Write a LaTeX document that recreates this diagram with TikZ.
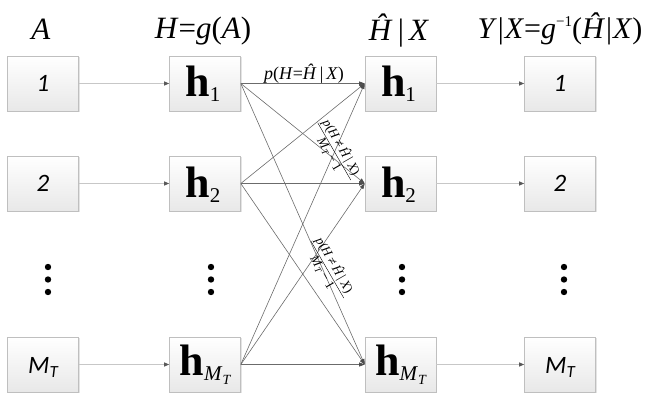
\documentclass[tikz,border=0pt]{standalone}
\usepackage{fontspec}
\setmainfont{Liberation Serif}
\newfontfamily\numfont{Carlito}
\usetikzlibrary{arrows.meta,shadows}
\tikzset{
  boxnode/.style={draw=black!25, line width=0.6pt, top color=white, bottom color=black!9,
    minimum width=71pt, minimum height=55pt, inner sep=0pt,
    drop shadow={shadow xshift=1.3pt, shadow yshift=-1.3pt, opacity=0.3, fill=black!35}},
  hlab/.style={anchor=base, inner sep=0pt, font=\fontsize{44}{44}\selectfont\bfseries},
  numlab/.style={anchor=base, inner sep=0pt, font=\numfont\itshape\fontsize{25}{25}\selectfont},
  head/.style={anchor=base, inner sep=0pt, font=\fontsize{31}{31}\selectfont},
  sideline/.style={draw=black!22, line width=0.9pt, -{Triangle[length=5pt,width=4pt,color=black!65]}},
  crossline/.style={draw=black!58, line width=0.6pt, -{Triangle[length=5.5pt,width=4pt,color=black!70]}},
  fraclab/.style={inner sep=0pt, font=\fontsize{13}{13.5}\selectfont},
  dot/.style={fill=black}
}
\newcommand{\hsub}[1]{\textbf{h}\raisebox{-5pt}{\fontsize{21}{21}\selectfont\mdseries #1}}
\newcommand{\MTsub}{\textit{M}\raisebox{-4pt}{\fontsize{14}{14}\selectfont\itshape T}}
\newcommand{\fracbody}{\begin{tabular}{@{\,}c@{\,}}\textit{p}(\textit{H}\,≠\,\textit{Ĥ}\,|\,\textit{X})\\\hline \textit{M}\textsubscript{\textit{T}}\,−\,1\end{tabular}}
\begin{document}
\begin{tikzpicture}[x=1pt,y=-1pt]
\useasboundingbox (0,0) rectangle (651,393);
% boxes
\foreach \c/\x in {a/43,b/205,c/400.5,d/560}{
  \foreach \r/\y in {1/83.5,2/183.5,3/364.5}{
    \node[boxnode] (\c\r) at (\x,\y) {};
  }
}
% headers
\node[head] (hA) at (41,40) {\textit{A}};
\node[head] (hB) at (203,39) {\textit{H}=\textit{g}(\textit{A})};
\node[head] (hC) at (399,41) {\textit{Ĥ}\,|\,\textit{X}};
\node[head, font=\fontsize{30}{30}\selectfont] (hD) at (560,39) {\textit{Y}\kern1pt|\kern1pt\textit{X}=\textit{g}\raisebox{12pt}{\fontsize{15}{15}\selectfont −1}(\textit{Ĥ}\kern1pt|\kern1pt\textit{X})};
% box texts
\node[numlab] (ta1) at (43,92) {1};
\node[numlab] (ta2) at (43,192) {2};
\node[numlab] (ta3) at (43,373) {M\raisebox{-4pt}{\fontsize{17}{17}\selectfont T}};
\node[numlab] (td1) at (560,92) {1};
\node[numlab] (td2) at (560,192) {2};
\node[numlab] (td3) at (560,373) {M\raisebox{-4pt}{\fontsize{17}{17}\selectfont T}};
\node[hlab] (tb1) at (203,97) {\hsub{1}};
\node[hlab] (tb2) at (203,197) {\hsub{2}};
\node[hlab] (tb3) at (205,375) {\hsub{\MTsub}};
\node[hlab] (tc1) at (398.5,97) {\hsub{1}};
\node[hlab] (tc2) at (398.5,197) {\hsub{2}};
\node[hlab] (tc3) at (400.5,375) {\hsub{\MTsub}};
% dots
\foreach \x in {48,211,402,564}{
  \foreach \y in {267,279.5,292}{
    \fill[dot] (\x,\y) circle (3.2pt);
  }
}
% side arrows
\foreach \r in {1,2,3}{
  \draw[sideline] (a\r.east) -- (b\r.west);
  \draw[sideline] (c\r.east) -- (d\r.west);
}
% cross arrows
\foreach \i in {1,2,3}{
  \foreach \j in {1,2,3}{
    \draw[crossline] (b\i.east) -- (c\j.west);
  }
}
% labels
\node[anchor=base, inner sep=0pt, font=\fontsize{18}{18}\selectfont] (pl) at (304,80)
  {\textit{p}(\textit{H}=\textit{Ĥ}\,|\,\textit{X})};
\node[fraclab, rotate=-60] (f1) at (335,151) {\fracbody};
\node[fraclab, rotate=-60] (f2) at (328,269) {\fracbody};
\end{tikzpicture}
\end{document}
